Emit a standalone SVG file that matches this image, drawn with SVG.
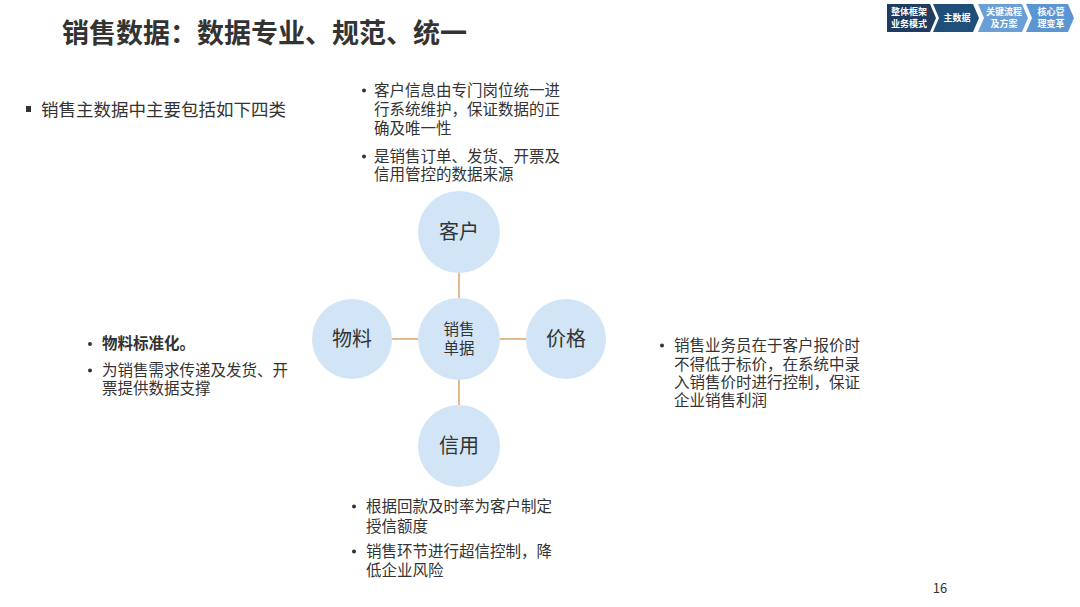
<svg xmlns="http://www.w3.org/2000/svg" width="1080" height="607" viewBox="0 0 1080 607">
<style>
.t{font-family:"Microsoft YaHei","Noto Sans CJK SC","Noto Sans",sans-serif;fill:#333}
.b{font-size:15.5px}
.dot{fill:#333}
.node{fill:#d2e5f6}
.nl{font-size:20px;text-anchor:middle}
.nav{font-family:"Noto Sans CJK SC",sans-serif;font-size:9px;font-weight:bold;fill:#fff;text-anchor:middle}
.conn{stroke:#e5b88e;stroke-width:2;fill:none}
</style>
<rect width="1080" height="607" fill="#fff"/>
<g id="nav">
<polygon points="887,4 930,4 936,18 930,32 887,32" fill="#1f3b5e"/>
<polygon points="933,4 973,4 979,18 973,32 933,32 939,18" fill="#1f4e79"/>
<polygon points="978,4 1022,4 1028,18 1022,32 978,32 984,18" fill="#6a9fd6"/>
<polygon points="1026,4 1068,4 1074,18 1068,32 1026,32 1032,18" fill="#5b96d2"/>
<text class="nav" x="909" y="15">整体框架</text>
<text class="nav" x="909" y="27">业务模式</text>
<text class="nav" x="957" y="21">主数据</text>
<text class="nav" x="1004" y="15">关键流程</text>
<text class="nav" x="1004" y="27">及方案</text>
<text class="nav" x="1051" y="15">核心管</text>
<text class="nav" x="1051" y="27">理变革</text>
</g>
<text class="t" x="62" y="43" font-size="27" font-weight="bold" fill="#3a3a3a">销售数据：数据专业、规范、统一</text>
<rect x="26" y="106" width="5" height="6" fill="#333"/>
<text class="t" x="41" y="116" font-size="17.5">销售主数据中主要包括如下四类</text>
<g id="connectors">
<line class="conn" x1="459" y1="272" x2="459" y2="298"/>
<line class="conn" x1="459" y1="380" x2="459" y2="405"/>
<line class="conn" x1="392" y1="339" x2="418" y2="339"/>
<line class="conn" x1="500" y1="339" x2="526" y2="339"/>
</g>
<g id="node-center">
<circle class="node" cx="459" cy="339" r="41"/>
<text class="t" x="459" y="335" font-size="15.5" text-anchor="middle">销售</text>
<text class="t" x="459" y="354" font-size="15.5" text-anchor="middle">单据</text>
</g>
<g id="node-kehu">
<circle class="node" cx="459" cy="232" r="41"/>
<text class="t nl" x="459" y="239">客户</text>
</g>
<g id="node-wuliao">
<circle class="node" cx="352" cy="339" r="40"/>
<text class="t nl" x="352" y="346">物料</text>
</g>
<g id="node-jiage">
<circle class="node" cx="566" cy="339" r="40"/>
<text class="t nl" x="566" y="346">价格</text>
</g>
<g id="node-xinyong">
<circle class="node" cx="459" cy="446" r="41"/>
<text class="t nl" x="459" y="453">信用</text>
</g>
<g id="text-kehu" class="t b">
<circle class="dot" cx="364" cy="90.5" r="2"/>
<text x="374" y="96">客户信息由专门岗位统一进</text>
<text x="374" y="115">行系统维护，保证数据的正</text>
<text x="374" y="134">确及唯一性</text>
<circle class="dot" cx="364" cy="156.5" r="2"/>
<text x="374" y="162">是销售订单、发货、开票及</text>
<text x="374" y="180">信用管控的数据来源</text>
</g>
<g id="text-wuliao" class="t b">
<circle class="dot" cx="90" cy="344" r="2"/>
<text x="102" y="349" font-weight="bold">物料标准化。</text>
<circle class="dot" cx="90" cy="370.5" r="2"/>
<text x="102" y="376">为销售需求传递及发货、开</text>
<text x="102" y="394">票提供数据支撑</text>
</g>
<g id="text-jiage" class="t b">
<circle class="dot" cx="662" cy="345.5" r="2"/>
<text x="674" y="351">销售业务员在于客户报价时</text>
<text x="674" y="369.5">不得低于标价，在系统中录</text>
<text x="674" y="388">入销售价时进行控制，保证</text>
<text x="674" y="406">企业销售利润</text>
</g>
<g id="text-xinyong" class="t b">
<circle class="dot" cx="354" cy="506.5" r="2"/>
<text x="366" y="512">根据回款及时率为客户制定</text>
<text x="366" y="532">授信额度</text>
<circle class="dot" cx="354" cy="551.5" r="2"/>
<text x="366" y="557">销售环节进行超信控制，降</text>
<text x="366" y="576">低企业风险</text>
</g>
<text class="t" x="940" y="593" font-size="13" text-anchor="middle">16</text>
</svg>
